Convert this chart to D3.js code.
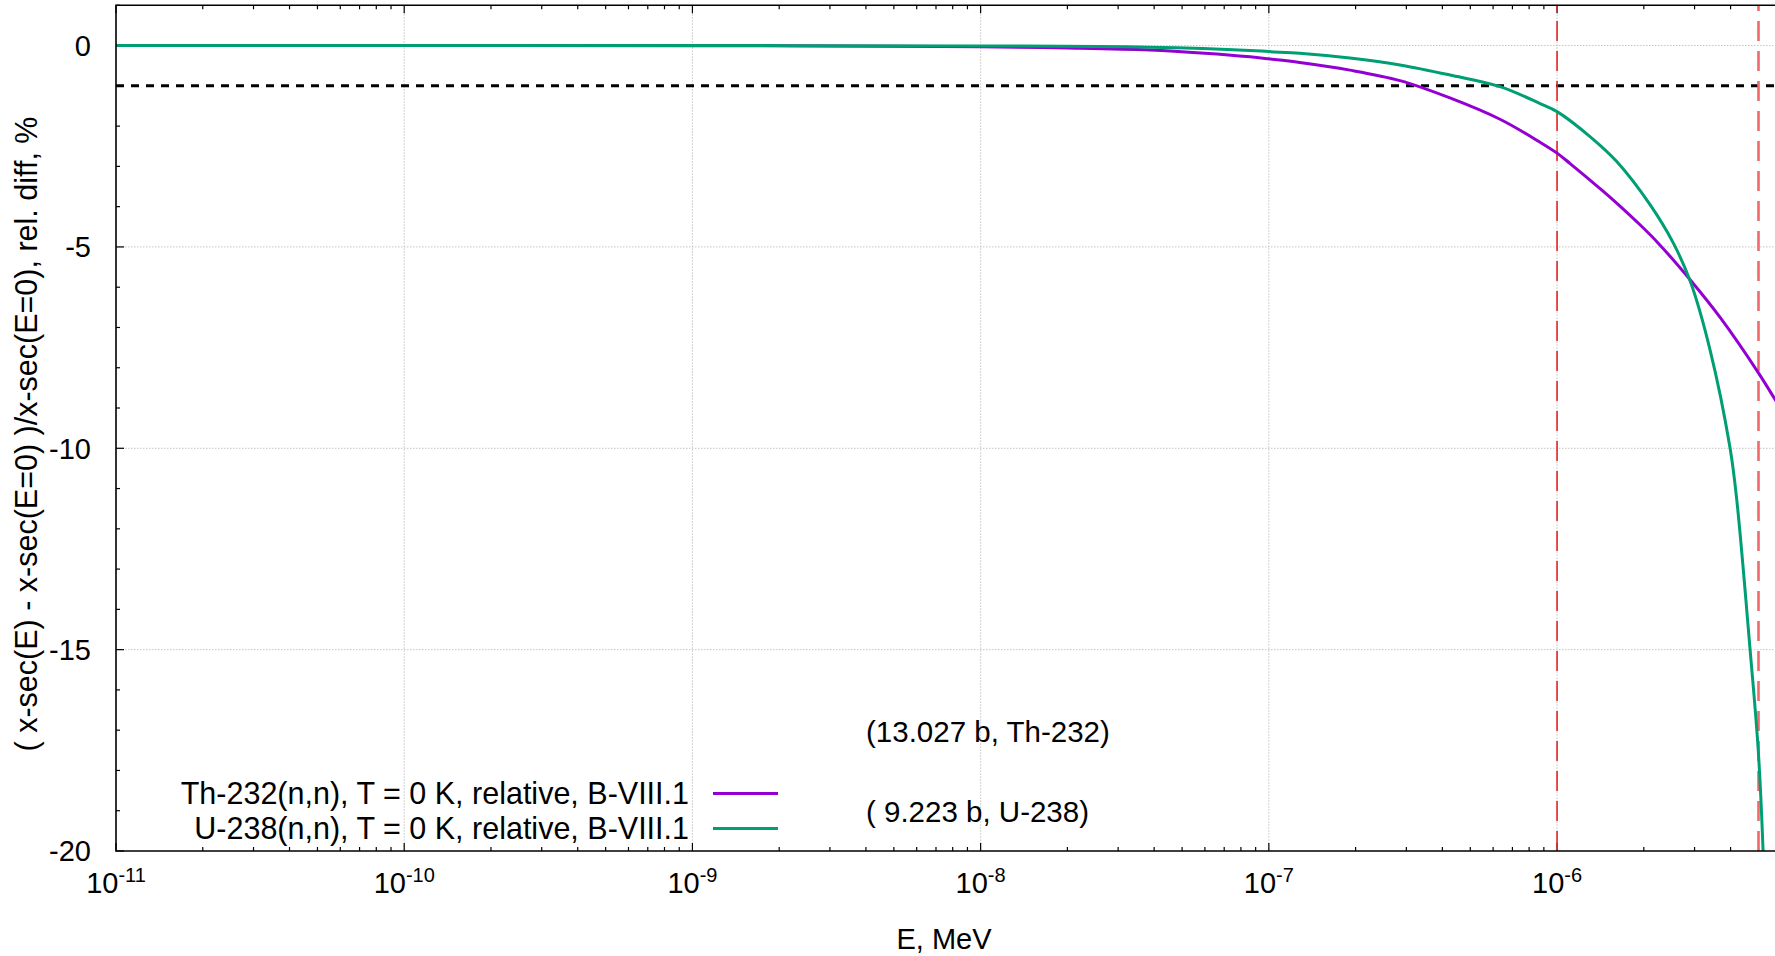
<!DOCTYPE html>
<html>
<head>
<meta charset="utf-8">
<script src="https://cdn.jsdelivr.net/npm/d3@7"></script>
<style>
  html, body { margin: 0; padding: 0; background: #fff; }
  svg { display: block; }
  text { font-family: "Liberation Sans", Arial, sans-serif; fill: #000; }
</style>
</head>
<body>
<svg id="chart" width="1775" height="956"></svg>
<script>
// ---------------- data ----------------
const thEnergy = [1e-11, 1e-10, 1e-9, 3e-9, 1e-8, 2e-8, 3.86e-8, 6e-8, 8.6e-8, 1e-7, 1.28e-7, 1.91e-7, 2.85e-7, 4.25e-7, 6.34e-7, 8.73e-7, 1e-6, 1.11e-6, 1.41e-6, 1.564e-6, 1.94e-6, 2.24e-6, 2.9e-6, 3.68e-6, 4.99e-6, 5.71e-6, 6.2e-6];
const thRelDiff = [0, 0, -0.003, -0.01, -0.03, -0.06, -0.11, -0.19, -0.28, -0.33, -0.42, -0.61, -0.87, -1.30, -1.83, -2.40, -2.67, -2.93, -3.55, -3.83, -4.45, -4.90, -5.82, -6.75, -8.12, -8.79, -9.2];

const uEnergy = [1e-11, 1e-10, 1e-9, 1e-8, 3.86e-8, 8.6e-8, 1e-7, 1.28e-7, 1.91e-7, 2.85e-7, 4.25e-7, 6.34e-7, 8.73e-7, 1e-6, 1.301e-6, 1.611e-6, 2.102e-6, 2.53e-6, 2.90e-6, 3.396e-6, 3.985e-6, 4.203e-6, 4.675e-6, 4.99e-6, 5.186e-6, 5.35e-6];
const uRelDiff = [0, 0, 0, -0.01, -0.04, -0.12, -0.15, -0.19, -0.31, -0.48, -0.73, -1.02, -1.44, -1.64, -2.26, -2.88, -3.95, -4.90, -5.86, -7.56, -10.0, -11.28, -15.0, -17.5, -20.0, -23.5];

const seriesNames = ["Th-232(n,n), T = 0 K, relative, B-VIII.1", "U-238(n,n), T = 0 K, relative, B-VIII.1"];
const seriesColors = ["#9400d3", "#009e73"];
const annotations = ["(13.027 b, Th-232)", "( 9.223 b, U-238)"];
const refLevel = -1;
const markerEnergies = [1e-6, 5e-6];
const xTickExponents = [-11, -10, -9, -8, -7, -6];
const yTicks = [0, -5, -10, -15, -20];
const xDomain = [1e-11, 5.75e-6];
const yDomain = [-20, 1];
const xLabel = "E, MeV";
const yLabel = "( x-sec(E) - x-sec(E=0) )/x-sec(E=0), rel. diff, %";

// ---------------- layout ----------------
const L = 116, R = 1776, T = 5.3, B = 851;
const svg = d3.select("#chart");
const x = d3.scaleLog().domain(xDomain).range([L, R]);
const y = d3.scaleLinear().domain(yDomain).range([B, T]);

svg.append("defs").append("clipPath").attr("id", "clip")
  .append("rect").attr("x", L).attr("y", T).attr("width", R - L).attr("height", B - T);

// grid
const majorX = xTickExponents.map(e => Math.pow(10, e));
svg.append("g").selectAll("line").data(majorX.slice(1)).join("line")
  .attr("x1", d => x(d)).attr("x2", d => x(d)).attr("y1", T).attr("y2", B)
  .attr("stroke", "#c4c4c4").attr("stroke-width", 1).attr("stroke-dasharray", "1.5,1.5");
svg.append("g").selectAll("line").data(yTicks.filter(v => v > yDomain[0])).join("line")
  .attr("x1", L).attr("x2", R).attr("y1", d => y(d)).attr("y2", d => y(d))
  .attr("stroke", "#c4c4c4").attr("stroke-width", 1).attr("stroke-dasharray", "1.5,1.5");

// minor x ticks (2..9 of each decade)
const minorX = [];
for (let e = -11; e <= -6; e++) for (let k = 2; k <= 9; k++) {
  const v = k * Math.pow(10, e);
  if (v < xDomain[1]) minorX.push(v);
}
const minorY = d3.range(yDomain[0], yDomain[1] + 0.001, 1).filter(v => v % 5 !== 0);

const tickG = svg.append("g").attr("stroke", "#000").attr("stroke-width", 1.2);
[[B, -1], [T, 1]].forEach(([yy, dir]) => {
  tickG.append("g").selectAll("line").data(majorX).join("line")
    .attr("x1", d => x(d)).attr("x2", d => x(d)).attr("y1", yy).attr("y2", yy + dir * 8);
  tickG.append("g").selectAll("line").data(minorX).join("line")
    .attr("x1", d => x(d)).attr("x2", d => x(d)).attr("y1", yy).attr("y2", yy + dir * 4);
});
tickG.append("g").selectAll("line").data(yTicks).join("line")
  .attr("x1", L).attr("x2", L + 8).attr("y1", d => y(d)).attr("y2", d => y(d));
tickG.append("g").selectAll("line").data(minorY).join("line")
  .attr("x1", L).attr("x2", L + 4).attr("y1", d => y(d)).attr("y2", d => y(d));

// reference horizontal dashed line
svg.append("line")
  .attr("x1", L).attr("x2", R).attr("y1", y(refLevel)).attr("y2", y(refLevel))
  .attr("stroke", "#000").attr("stroke-width", 3).attr("stroke-dasharray", "8,7");

// vertical red dashed markers
svg.append("g").selectAll("line").data(markerEnergies).join("line")
  .attr("x1", d => x(d)).attr("x2", d => x(d)).attr("y1", B).attr("y2", T)
  .attr("stroke", (d, i) => i === 0 ? "#e32626" : "#f06a6a")
  .attr("stroke-width", (d, i) => i === 0 ? 1.6 : 2.6)
  .attr("stroke-dasharray", "20,10");

// curves
const line = d3.line().x(d => x(d[0])).y(d => y(d[1])).curve(d3.curveCatmullRom.alpha(0.5));
const series = [d3.zip(thEnergy, thRelDiff), d3.zip(uEnergy, uRelDiff)];
svg.append("g").attr("clip-path", "url(#clip)").selectAll("path").data(series).join("path")
  .attr("d", line).attr("fill", "none")
  .attr("stroke", (d, i) => seriesColors[i]).attr("stroke-width", 3)
  .attr("stroke-linejoin", "round");

// border (left, bottom, top)
svg.append("path")
  .attr("d", `M${R},${T}H${L}V${B}H${R}`)
  .attr("fill", "none").attr("stroke", "#000").attr("stroke-width", 1.6);

// y tick labels
svg.append("g").selectAll("text").data(yTicks).join("text")
  .attr("x", 91).attr("y", d => y(d)).attr("dy", "0.36em")
  .attr("text-anchor", "end").attr("font-size", 29).text(d => d);

// x tick labels
const xl = svg.append("g").selectAll("text").data(xTickExponents).join("text")
  .attr("x", d => x(Math.pow(10, d))).attr("y", 893)
  .attr("text-anchor", "middle").attr("font-size", 29);
xl.append("tspan").text("10");
xl.append("tspan").attr("dy", -11).attr("font-size", 20).text(d => d);

// axis titles
svg.append("text").attr("x", (L + R) / 2 - 2).attr("y", 949)
  .attr("text-anchor", "middle").attr("font-size", 29).text(xLabel);
svg.append("text").attr("transform", `translate(37,${(113 + 755) / 2}) rotate(-90)`)
  .attr("text-anchor", "middle").attr("font-size", 30.5).text(yLabel);

// annotations
svg.append("g").selectAll("text").data(annotations).join("text")
  .attr("x", 866).attr("y", (d, i) => [741.5, 821.5][i])
  .attr("font-size", 29.5).text(d => d);

// legend
const legendY = [793.6, 828.6];
const lg = svg.append("g").selectAll("g").data(seriesNames).join("g");
lg.append("text").attr("x", 689).attr("y", (d, i) => legendY[i] + 10.5)
  .attr("text-anchor", "end").attr("font-size", 30.5).text(d => d);
lg.append("line").attr("x1", 713).attr("x2", 778)
  .attr("y1", (d, i) => legendY[i]).attr("y2", (d, i) => legendY[i])
  .attr("stroke", (d, i) => seriesColors[i]).attr("stroke-width", 3);
</script>
</body>
</html>
